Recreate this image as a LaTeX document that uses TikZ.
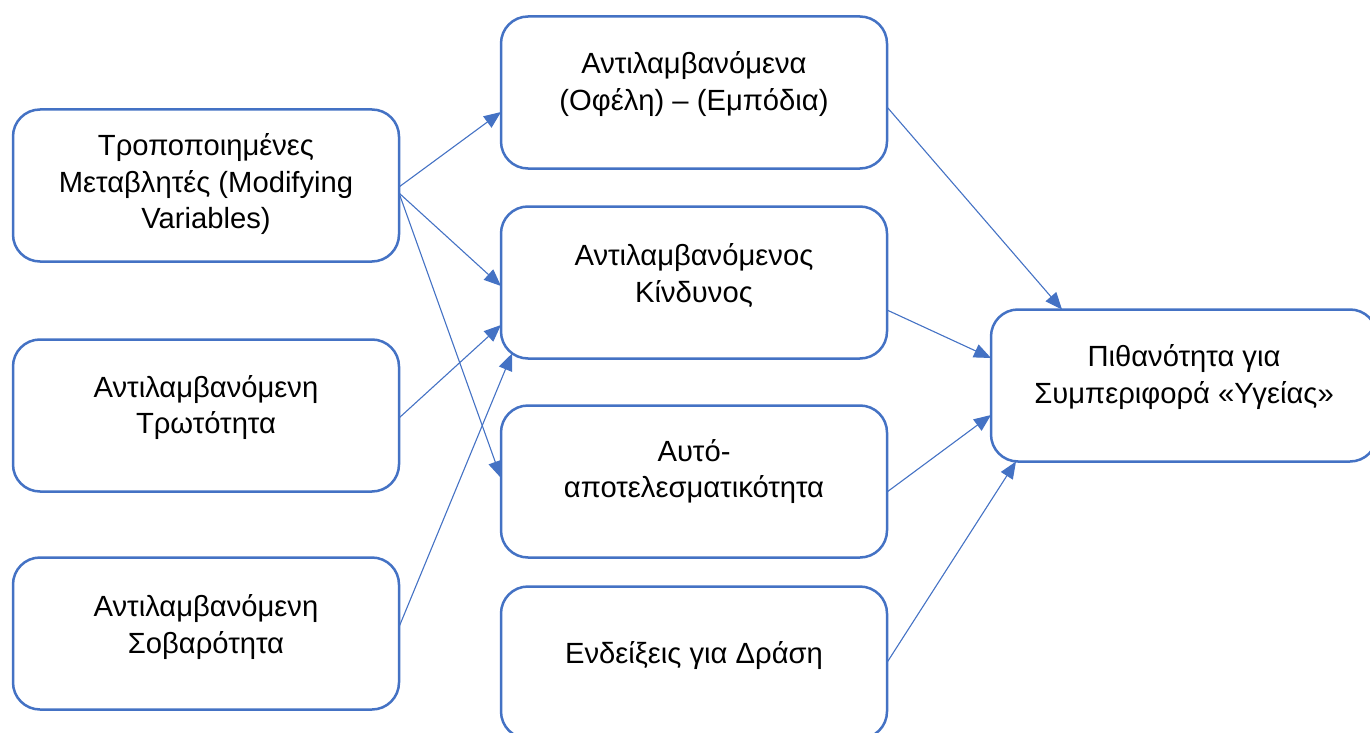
\documentclass[tikz,border=0pt]{standalone}
\usepackage{fontspec}
\setmainfont{Liberation Sans}
\usetikzlibrary{arrows.meta}
\definecolor{wblue}{HTML}{4472C4}
\begin{document}
\begin{tikzpicture}[x=1pt,y=-1pt,
  box/.style={draw=wblue, line width=2.5pt, rounded corners=27pt, fill=white,
    minimum width=386pt, minimum height=152pt, inner sep=0pt, outer sep=0pt},
  txt/.style={font=\fontsize{29.2}{36.7}\selectfont, align=center, inner sep=0pt,
    outer sep=0pt, anchor=north, text=black},
  conn/.style={draw=wblue, line width=1.1pt, -{Triangle[length=17pt,width=14pt]}}]
\useasboundingbox (0,0) rectangle (1370,733);

\node[box] (L1) at (206,185.5) {};
\node[box] (L2) at (206,415.5) {};
\node[box] (L3) at (206,633.5) {};
\node[box] (A) at (694,92.5) {};
\node[box] (B) at (694,282.5) {};
\node[box] (C) at (694,481.5) {};
\node[box] (D) at (694,662.5) {};
\node[box] (R) at (1184,385.5) {};

\node[txt] (tL1) at ([yshift=-19pt]L1.north) {\rule{0pt}{27pt}Τροποποιημένες\\Μεταβλητές (Modifying\\Variables)};
\node[txt] (tL2) at ([yshift=-30.5pt]L2.north) {\rule{0pt}{27pt}Αντιλαμβανόμενη\\Τρωτότητα};
\node[txt] (tL3) at ([yshift=-32pt]L3.north) {\rule{0pt}{27pt}Αντιλαμβανόμενη\\Σοβαρότητα};
\node[txt] (tA) at ([yshift=-30pt]A.north) {\rule{0pt}{27pt}Αντιλαμβανόμενα\\(Οφέλη) – (Εμπόδια)};
\node[txt] (tB) at ([yshift=-32pt]B.north) {\rule{0pt}{27pt}Αντιλαμβανόμενος\\Κίνδυνος};
\node[txt] (tC) at ([yshift=-28.7pt]C.north) {\rule{0pt}{27pt}Αυτό-\\αποτελεσματικότητα};
\node[txt] (tD) at ([yshift=-50.3pt]D.north) {\rule{0pt}{27pt}Ενδείξεις για Δράση};
\node[txt] (tR) at ([yshift=-30pt]R.north) {\rule{0pt}{27pt}Πιθανότητα για\\Συμπεριφορά «Υγείας»};

\draw[conn] ([yshift=-1.5pt]L1.east) -- ([yshift=-19.5pt]A.west);
\draw[conn] ([yshift=-7.5pt]L1.east) -- ([yshift=-3.5pt]B.west);
\draw[conn] ([yshift=-7.5pt]L1.east) -- ([yshift=3.5pt]C.west);
\draw[conn] ([yshift=-2.5pt]L2.east) -- ([yshift=-42.5pt]B.west);
\draw[conn] ([yshift=6.5pt]L3.east) -- ([xshift=11pt,yshift=5pt]B.south west);
\draw[conn] ([yshift=-14.5pt]A.east) -- ([xshift=-122pt]R.north);
\draw[conn] ([yshift=-27.5pt]B.east) -- ([yshift=27.5pt]R.west);
\draw[conn] ([yshift=-10.5pt]C.east) -- ([yshift=-29.5pt]R.west);
\draw[conn] (D.east) -- ([xshift=25pt]R.south west);
\end{tikzpicture}
\end{document}
